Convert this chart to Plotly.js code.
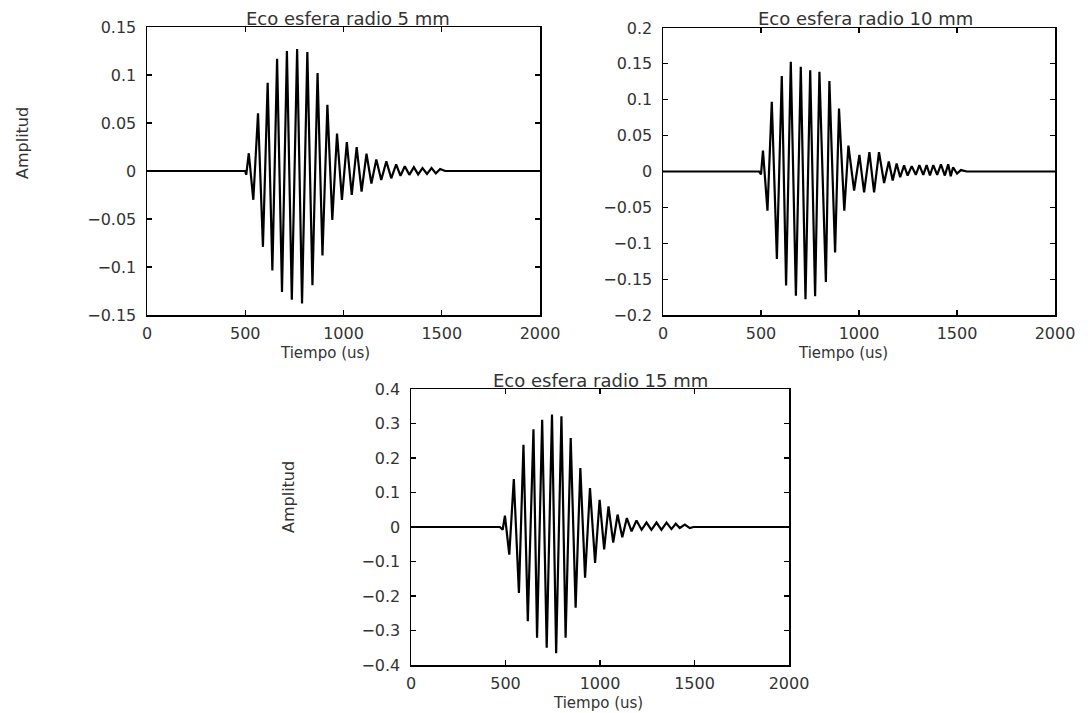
<!DOCTYPE html>
<html>
<head>
<meta charset="utf-8">
<script src="https://cdn.plot.ly/plotly-3.0.1.min.js"></script>
<style>
  html, body { margin: 0; padding: 0; background: #fff; }
  #chart { width: 1091px; height: 713px; }
</style>
</head>
<body>
<div id="chart"></div>
<script>
// ---------- Data (time in us, amplitude) ----------
// Echo, sphere radius 5 mm
const time5 = [0, 500, 505, 518, 541, 565, 590, 614, 638, 662, 687, 712, 737, 764, 789, 816, 842, 868, 893, 918, 943, 967, 992, 1017, 1042, 1067, 1092, 1117, 1142, 1167, 1192, 1218, 1243, 1268, 1290, 1312, 1335, 1358, 1380, 1402, 1425, 1448, 1470, 1492, 1517, 2000];
const amp5  = [0, 0, -0.004, 0.0185, -0.030, 0.060, -0.079, 0.092, -0.1035, 0.117, -0.126, 0.125, -0.134, 0.127, -0.138, 0.124, -0.119, 0.102, -0.088, 0.069, -0.051, 0.039, -0.030, 0.030, -0.025, 0.025, -0.0215, 0.018, -0.013, 0.012, -0.0094, 0.010, -0.0076, 0.007, -0.005, 0.005, -0.004, 0.004, -0.0035, 0.003, -0.003, 0.003, -0.0025, 0.002, 0, 0];

// Echo, sphere radius 10 mm
const time10 = [0, 490, 500, 510, 533, 555, 581, 606, 628, 652, 678, 703, 727, 751, 776, 798, 831, 849, 878, 898, 925, 946, 975, 1002, 1026, 1053, 1077, 1102, 1128, 1152, 1172, 1192, 1210, 1230, 1248, 1269, 1290, 1308, 1328, 1345, 1362, 1379, 1399, 1418, 1438, 1455, 1468, 1480, 1500, 1520, 1550, 2000];
const amp10  = [0, 0, -0.004, 0.029, -0.0545, 0.097, -0.122, 0.133, -0.159, 0.153, -0.173, 0.146, -0.178, 0.141, -0.174, 0.139, -0.154, 0.126, -0.113, 0.0876, -0.0545, 0.036, -0.0265, 0.023, -0.029, 0.027, -0.029, 0.027, -0.016, 0.014, -0.0126, 0.011, -0.008, 0.0084, -0.0056, 0.0075, -0.0046, 0.009, -0.0046, 0.009, -0.0056, 0.009, -0.0046, 0.010, -0.0056, 0.010, -0.0065, 0.006, -0.003, 0.002, 0, 0];

// Echo, sphere radius 15 mm
const time15 = [0, 470, 485, 497, 520, 544, 571, 595, 618, 648, 667, 694, 718, 746, 768, 796, 818, 845, 871, 896, 921, 947, 974, 998, 1022, 1045, 1070, 1093, 1118, 1142, 1167, 1193, 1220, 1246, 1272, 1299, 1325, 1352, 1378, 1401, 1422, 1449, 1475, 1495, 2000];
const amp15  = [0, 0, -0.008, 0.033, -0.080, 0.139, -0.191, 0.238, -0.273, 0.283, -0.321, 0.311, -0.350, 0.326, -0.366, 0.321, -0.321, 0.258, -0.234, 0.171, -0.147, 0.113, -0.104, 0.079, -0.065, 0.060, -0.045, 0.036, -0.030, 0.026, -0.0126, 0.019, -0.008, 0.013, -0.008, 0.013, -0.008, 0.013, -0.006, 0.0096, -0.003, 0.0067, -0.003, 0, 0];

// Tick values and labels
const xTicks = [0, 500, 1000, 1500, 2000];
const xTickText = ['0', '500', '1000', '1500', '2000'];
const yTicks5 = [0.15, 0.1, 0.05, 0, -0.05, -0.1, -0.15];
const yTickText5 = ['0.15', '0.1', '0.05', '0', '\u22120.05', '\u22120.1', '\u22120.15'];
const yTicks10 = [0.2, 0.15, 0.1, 0.05, 0, -0.05, -0.1, -0.15, -0.2];
const yTickText10 = ['0.2', '0.15', '0.1', '0.05', '0', '\u22120.05', '\u22120.1', '\u22120.15', '\u22120.2'];
const yTicks15 = [0.4, 0.3, 0.2, 0.1, 0, -0.1, -0.2, -0.3, -0.4];
const yTickText15 = ['0.4', '0.3', '0.2', '0.1', '0', '\u22120.1', '\u22120.2', '\u22120.3', '\u22120.4'];

const titles = ['Eco esfera radio 5 mm', 'Eco esfera radio 10 mm', 'Eco esfera radio 15 mm'];
const xLabel = 'Tiempo (us)';
const yLabel = 'Amplitud';

// ---------- Layout helpers ----------
const W = 1091, H = 713;
const FONT = 'DejaVu Sans, Liberation Sans, sans-serif';
const TXT = '#333';
const hx = p => p / W;
const vy = p => 1 - p / H;

function xAxis(l, r, anchor) {
  return {
    domain: [hx(l), hx(r)], anchor: anchor, range: [0, 2000],
    tickmode: 'array', tickvals: xTicks, ticktext: xTickText,
    ticks: 'inside', ticklen: 5, tickwidth: 1.2, tickcolor: '#000',
    showline: true, linecolor: '#000', linewidth: 1.5, mirror: 'ticks',
    showgrid: false, zeroline: false,
    tickfont: {family: FONT, size: 16, color: TXT},
    ticklabelstandoff: 3, fixedrange: true
  };
}
function yAxis(top, bottom, anchor, rng, vals, text) {
  return {
    domain: [vy(bottom), vy(top)], anchor: anchor, range: rng,
    tickmode: 'array', tickvals: vals, ticktext: text,
    ticks: 'inside', ticklen: 5, tickwidth: 1.2, tickcolor: '#000',
    showline: true, linecolor: '#000', linewidth: 1.5, mirror: 'ticks',
    showgrid: false, zeroline: false,
    tickfont: {family: FONT, size: 16, color: TXT},
    ticklabelstandoff: 6, fixedrange: true
  };
}

const lineStyle = {color: '#000', width: 2.2};
const data = [
  {x: time5, y: amp5, xaxis: 'x', yaxis: 'y', type: 'scatter', mode: 'lines', line: lineStyle, hoverinfo: 'skip'},
  {x: time10, y: amp10, xaxis: 'x2', yaxis: 'y2', type: 'scatter', mode: 'lines', line: lineStyle, hoverinfo: 'skip'},
  {x: time15, y: amp15, xaxis: 'x3', yaxis: 'y3', type: 'scatter', mode: 'lines', line: lineStyle, hoverinfo: 'skip'}
];

function ann(text, px, py, size, angle) {
  return {text: text, xref: 'paper', yref: 'paper', x: hx(px), y: vy(py),
          xanchor: 'center', yanchor: 'middle', showarrow: false, textangle: angle || 0,
          font: {family: FONT, size: size, color: TXT}};
}

const layout = {
  width: W, height: H,
  margin: {l: 0, r: 0, t: 0, b: 0},
  paper_bgcolor: '#fff', plot_bgcolor: '#fff',
  showlegend: false,
  xaxis: xAxis(147, 540, 'y'),
  yaxis: yAxis(27, 315, 'x', [-0.15, 0.15], yTicks5, yTickText5),
  xaxis2: xAxis(663, 1055, 'y2'),
  yaxis2: yAxis(28, 315, 'x2', [-0.2, 0.2], yTicks10, yTickText10),
  xaxis3: xAxis(411, 789, 'y3'),
  yaxis3: yAxis(389, 665, 'x3', [-0.4, 0.4], yTicks15, yTickText15),
  annotations: [
    ann(titles[0], 348, 18, 18),
    ann(titles[1], 865, 19, 18),
    ann(titles[2], 600, 380, 18),
    ann(xLabel, 325, 353, 15),
    ann(xLabel, 843, 353, 15),
    ann(xLabel, 598, 703, 15),
    ann(yLabel, 23, 143, 16, -90),
    ann(yLabel, 288, 497, 16, -90)
  ]
};

Plotly.newPlot('chart', data, layout, {staticPlot: true, displayModeBar: false});
</script>
</body>
</html>
